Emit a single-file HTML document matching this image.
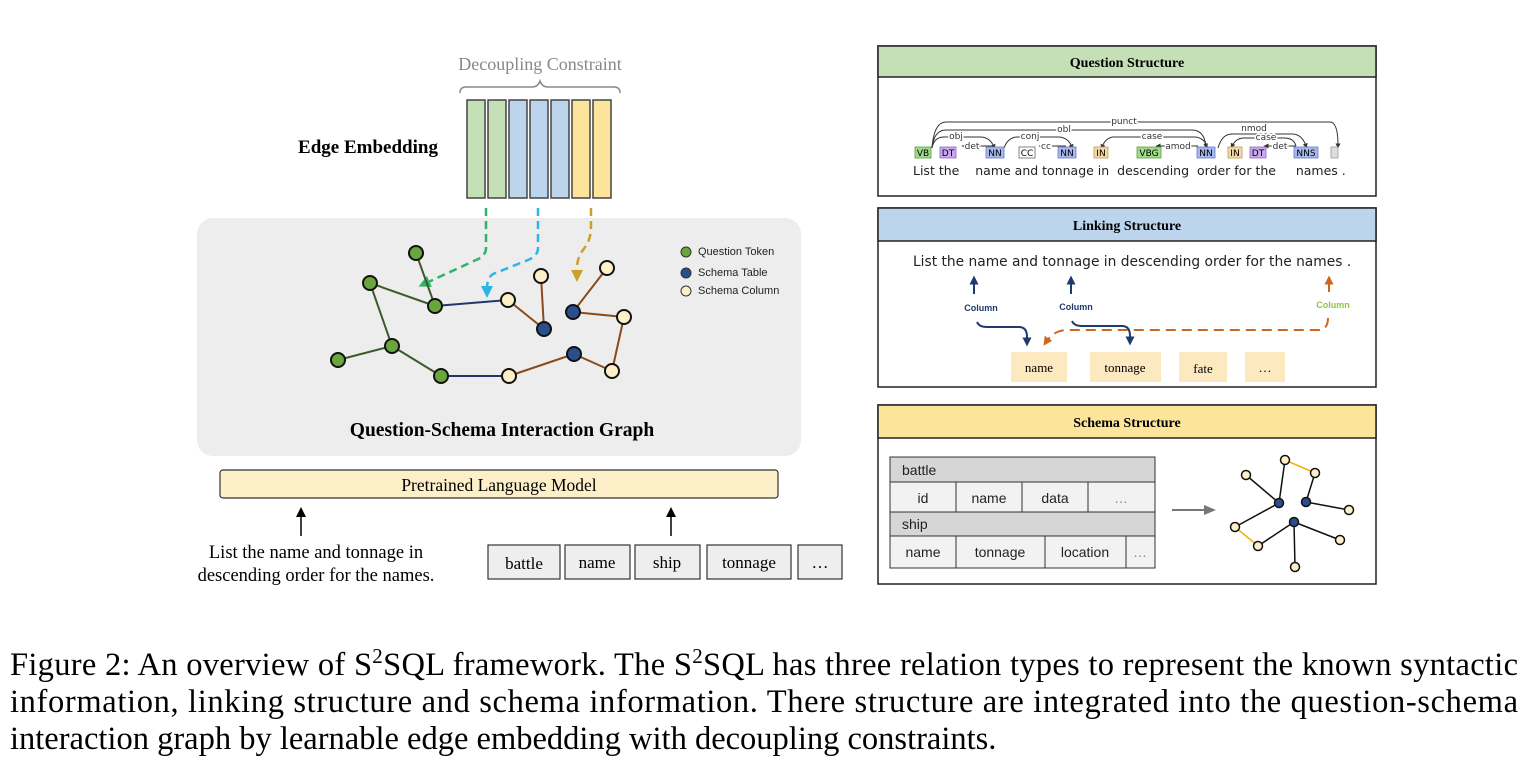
<!DOCTYPE html>
<html><head><meta charset="utf-8"><style>
body{margin:0;width:1526px;height:772px;background:#fff;overflow:hidden;font-family:"Liberation Serif",serif}
</style></head><body>
<svg width="1526" height="772" xmlns="http://www.w3.org/2000/svg" style="position:absolute;left:0;top:0">
<defs>
<marker id="ag" markerUnits="userSpaceOnUse" markerWidth="12" markerHeight="12" refX="6" refY="6" orient="auto"><path d="M0,0L12,6L0,12z" fill="#2fb36a"/></marker>
<marker id="ab" markerUnits="userSpaceOnUse" markerWidth="12" markerHeight="12" refX="6" refY="6" orient="auto"><path d="M0,0L12,6L0,12z" fill="#2db5e6"/></marker>
<marker id="ay" markerUnits="userSpaceOnUse" markerWidth="12" markerHeight="12" refX="6" refY="6" orient="auto"><path d="M0,0L12,6L0,12z" fill="#c9a02a"/></marker>
<marker id="ak" markerUnits="userSpaceOnUse" markerWidth="10" markerHeight="10" refX="5" refY="5" orient="auto"><path d="M0,0L10,5L0,10z" fill="#000"/></marker>
<marker id="an" markerUnits="userSpaceOnUse" markerWidth="9" markerHeight="9" refX="4.5" refY="4.5" orient="auto"><path d="M0,0L9,4.5L0,9z" fill="#1f3a6e"/></marker>
<marker id="ao" markerUnits="userSpaceOnUse" markerWidth="9" markerHeight="9" refX="4.5" refY="4.5" orient="auto"><path d="M0,0L9,4.5L0,9z" fill="#d0661e"/></marker>
<marker id="agr" markerUnits="userSpaceOnUse" markerWidth="12" markerHeight="12" refX="6" refY="6" orient="auto"><path d="M0,1L12,6L0,11z" fill="#777"/></marker>
<marker id="as" markerUnits="userSpaceOnUse" markerWidth="5" markerHeight="5" refX="2.5" refY="2.5" orient="auto"><path d="M0,0L5,2.5L0,5z" fill="#333"/></marker>
</defs>
<!-- left -->
<text x="540" y="70" font-size="18" fill="#888" text-anchor="middle">Decoupling Constraint</text>
<path d="M460,93 q0,-6 6,-6 h66 q6,0 8,-6 q2,6 8,6 h66 q6,0 6,6" fill="none" stroke="#888" stroke-width="1.5"/>
<text x="368" y="153" font-size="19" font-weight="bold" text-anchor="middle">Edge Embedding</text>
<g stroke="#444" stroke-width="1.5">
<rect x="467" y="100" width="18" height="98" fill="#c5dfb7"/>
<rect x="488" y="100" width="18" height="98" fill="#c5dfb7"/>
<rect x="509" y="100" width="18" height="98" fill="#bcd5ec"/>
<rect x="530" y="100" width="18" height="98" fill="#bcd5ec"/>
<rect x="551" y="100" width="18" height="98" fill="#bcd5ec"/>
<rect x="572" y="100" width="18" height="98" fill="#fde49b"/>
<rect x="593" y="100" width="18" height="98" fill="#fde49b"/>
</g>
<rect x="197" y="218" width="604" height="238" rx="16" fill="#ededed"/>
<g fill="none" stroke-width="2.5" stroke-dasharray="8,5">
<path d="M486,208 v40 q0,8 -10,12 l-52,24" stroke="#2fb36a" marker-end="url(#ag)"/>
<path d="M538,208 v40 q0,8 -10,12 l-35,14 q-6,4 -6,14 v4" stroke="#2db5e6" marker-end="url(#ab)"/>
<path d="M591,208 v20 q0,12 -8,22 q-6,8 -6,18 v8" stroke="#c9a02a" marker-end="url(#ay)"/>
</g>
<g stroke-width="2" fill="none">
<g stroke="#3d5a2a"><line x1="416" y1="253" x2="435" y2="306"/><line x1="370" y1="283" x2="435" y2="306"/><line x1="370" y1="283" x2="392" y2="346"/><line x1="338" y1="360" x2="392" y2="346"/><line x1="392" y1="346" x2="441" y2="376"/></g>
<g stroke="#22386a"><line x1="435" y1="306" x2="508" y2="300"/><line x1="441" y1="376" x2="509" y2="376"/></g>
<g stroke="#8a4a1a"><line x1="508" y1="300" x2="544" y2="329"/><line x1="541" y1="276" x2="544" y2="329"/><line x1="573" y1="312" x2="607" y2="268"/><line x1="573" y1="312" x2="624" y2="317"/><line x1="624" y1="317" x2="612" y2="371"/><line x1="612" y1="371" x2="574" y2="354"/><line x1="574" y1="354" x2="509" y2="376"/></g>
</g>
<g stroke="#111" stroke-width="2">
<g fill="#6aa63e"><circle cx="416" cy="253" r="7"/><circle cx="370" cy="283" r="7"/><circle cx="435" cy="306" r="7"/><circle cx="392" cy="346" r="7"/><circle cx="338" cy="360" r="7"/><circle cx="441" cy="376" r="7"/></g>
<g fill="#fdf0c8"><circle cx="508" cy="300" r="7"/><circle cx="541" cy="276" r="7"/><circle cx="509" cy="376" r="7"/><circle cx="607" cy="268" r="7"/><circle cx="624" cy="317" r="7"/><circle cx="612" cy="371" r="7"/></g>
<g fill="#2a4f8e"><circle cx="544" cy="329" r="7"/><circle cx="573" cy="312" r="7"/><circle cx="574" cy="354" r="7"/></g>
</g>
<g font-family="Liberation Sans,sans-serif" font-size="11" fill="#222">
<circle cx="686" cy="252" r="5" fill="#6aa63e" stroke="#333"/><text x="698" y="255">Question Token</text>
<circle cx="686" cy="273" r="5" fill="#2a4f8e" stroke="#333"/><text x="698" y="276">Schema Table</text>
<circle cx="686" cy="291" r="5" fill="#fdf0c8" stroke="#333"/><text x="698" y="294">Schema Column</text>
</g>
<text x="502" y="436" font-size="19.5" font-weight="bold" text-anchor="middle">Question-Schema Interaction Graph</text>
<rect x="220" y="470" width="558" height="28" rx="3" fill="#fdf0c8" stroke="#333" stroke-width="1.2"/>
<text x="499" y="491" font-size="17.5" text-anchor="middle">Pretrained Language Model</text>
<line x1="301" y1="536" x2="301" y2="512" stroke="#000" stroke-width="1.5" marker-end="url(#ak)"/>
<line x1="671" y1="536" x2="671" y2="512" stroke="#000" stroke-width="1.5" marker-end="url(#ak)"/>
<text x="316" y="558" font-size="18.5" text-anchor="middle">List the name and tonnage in</text>
<text x="316" y="581" font-size="18.5" text-anchor="middle">descending order for the names.</text>
<g fill="#eee" stroke="#333" stroke-width="1.2">
<rect x="488" y="545" width="72" height="34"/><rect x="565" y="545" width="65" height="34"/><rect x="635" y="545" width="65" height="34"/><rect x="707" y="545" width="84" height="34"/><rect x="798" y="545" width="44" height="34"/>
</g>
<g font-size="17" text-anchor="middle"><text x="524" y="569">battle</text><text x="597" y="568">name</text><text x="667" y="568">ship</text><text x="749" y="568">tonnage</text><text x="820" y="568">…</text></g>

<!-- right panels -->
<g stroke="#222" stroke-width="1.5">
<rect x="878" y="46" width="498" height="150" fill="#fff"/>
<rect x="878" y="46" width="498" height="31" fill="#c5dfb7"/>
<rect x="878" y="208" width="498" height="179" fill="#fff"/>
<rect x="878" y="208" width="498" height="33" fill="#bcd5ec"/>
<rect x="878" y="405" width="498" height="179" fill="#fff"/>
<rect x="878" y="405" width="498" height="33" fill="#fde49b"/>
</g>
<g font-size="14" font-weight="bold" text-anchor="middle"><text x="1127" y="67">Question Structure</text><text x="1127" y="230">Linking Structure</text><text x="1127" y="427">Schema Structure</text></g>
<!-- dependency -->
<g fill="none" stroke="#333" stroke-width="1">
<path d="M932,148 q2,-26 14,-26 h384 q8,0 8,24" marker-end="url(#as)"/>
<path d="M932,148 q2,-18 14,-18 h246 q12,0 14,16" marker-end="url(#as)"/>
<path d="M932,148 q2,-11 12,-11 h36 q10,0 14,10" marker-end="url(#as)"/>
<path d="M994,146 h-30" marker-end="url(#as)"/>
<path d="M1004,148 q4,-11 14,-11 h40 q10,0 14,10" marker-end="url(#as)"/>
<path d="M1066,146 h-25" marker-end="url(#as)"/>
<path d="M1208,148 q-4,-11 -14,-11 h-80 q-8,0 -12,10" marker-end="url(#as)"/>
<path d="M1198,146 h-40" marker-end="url(#as)"/>
<path d="M1218,148 q4,-14 14,-14 h60 q10,0 14,12" marker-end="url(#as)"/>
<path d="M1296,146 q-2,-8 -12,-8 h-40 q-8,0 -12,8" marker-end="url(#as)"/>
<path d="M1296,146 h-30" marker-end="url(#as)"/>
</g>
<g font-family="DejaVu Sans,sans-serif" font-size="9" fill="#333" text-anchor="middle">
<text x="1124" y="124" style="paint-order:stroke" stroke="#fff" stroke-width="3">punct</text>
<text x="1064" y="132" style="paint-order:stroke" stroke="#fff" stroke-width="3">obl</text>
<text x="956" y="139" style="paint-order:stroke" stroke="#fff" stroke-width="3">obj</text>
<text x="972" y="149" style="paint-order:stroke" stroke="#fff" stroke-width="3">det</text>
<text x="1030" y="139" style="paint-order:stroke" stroke="#fff" stroke-width="3">conj</text>
<text x="1046" y="149" style="paint-order:stroke" stroke="#fff" stroke-width="3">cc</text>
<text x="1152" y="139" style="paint-order:stroke" stroke="#fff" stroke-width="3">case</text>
<text x="1178" y="149" style="paint-order:stroke" stroke="#fff" stroke-width="3">amod</text>
<text x="1254" y="131" style="paint-order:stroke" stroke="#fff" stroke-width="3">nmod</text>
<text x="1266" y="140" style="paint-order:stroke" stroke="#fff" stroke-width="3">case</text>
<text x="1280" y="149" style="paint-order:stroke" stroke="#fff" stroke-width="3">det</text>
</g>
<g font-family="DejaVu Sans,sans-serif" font-size="9" text-anchor="middle" stroke-width="0.8">
<rect x="915" y="147" width="16" height="11" fill="#9edc8a" stroke="#5a9a4a"/><text x="923" y="156">VB</text>
<rect x="940" y="147" width="16" height="11" fill="#c9a8ef" stroke="#8a6ac0"/><text x="948" y="156">DT</text>
<rect x="986" y="147" width="18" height="11" fill="#a8b8ee" stroke="#6a7ac0"/><text x="995" y="156">NN</text>
<rect x="1019" y="147" width="16" height="11" fill="#fff" stroke="#666"/><text x="1027" y="156">CC</text>
<rect x="1058" y="147" width="18" height="11" fill="#a8b8ee" stroke="#6a7ac0"/><text x="1067" y="156">NN</text>
<rect x="1094" y="147" width="14" height="11" fill="#f6d9a8" stroke="#b89a5a"/><text x="1101" y="156">IN</text>
<rect x="1137" y="147" width="24" height="11" fill="#9edc8a" stroke="#5a9a4a"/><text x="1149" y="156">VBG</text>
<rect x="1197" y="147" width="18" height="11" fill="#a8b8ee" stroke="#6a7ac0"/><text x="1206" y="156">NN</text>
<rect x="1228" y="147" width="14" height="11" fill="#f6d9a8" stroke="#b89a5a"/><text x="1235" y="156">IN</text>
<rect x="1250" y="147" width="16" height="11" fill="#c9a8ef" stroke="#8a6ac0"/><text x="1258" y="156">DT</text>
<rect x="1294" y="147" width="24" height="11" fill="#a8b8ee" stroke="#6a7ac0"/><text x="1306" y="156">NNS</text>
<rect x="1331" y="147" width="7" height="11" fill="#ddd" stroke="#999"/>
</g>
<text x="913" y="175" font-family="DejaVu Sans,sans-serif" font-size="12.5" fill="#222" xml:space="preserve">List the    name and tonnage in  descending  order for the     names .</text>
<!-- linking -->
<text x="913" y="266" font-family="DejaVu Sans,sans-serif" font-size="13.8" fill="#222">List the name and tonnage in  descending order for the names .</text>
<g stroke-width="2" fill="none">
<line x1="974" y1="294" x2="974" y2="280" stroke="#1f3a6e" marker-end="url(#an)"/>
<line x1="1071" y1="294" x2="1071" y2="280" stroke="#1f3a6e" marker-end="url(#an)"/>
<line x1="1329" y1="292" x2="1329" y2="280" stroke="#d0661e" marker-end="url(#ao)"/>
<path d="M977,322 q2,5 10,5 h32 q8,0 8,10 v5" stroke="#1f3a6e" marker-end="url(#an)"/>
<path d="M1072,321 q2,5 10,5 h40 q8,0 8,10 v5" stroke="#1f3a6e" marker-end="url(#an)"/>
<path d="M1328,318 q0,12 -10,12 h-250 q-14,0 -22,12" stroke="#d0661e" stroke-dasharray="10,6" marker-end="url(#ao)"/>
</g>
<g font-family="Liberation Sans,sans-serif" font-size="9" font-weight="bold" text-anchor="middle"><text x="981" y="311" fill="#1f3a6e">Column</text><text x="1076" y="310" fill="#1f3a6e">Column</text><text x="1333" y="308" fill="#8cc63f">Column</text></g>
<g fill="#fde9c0"><rect x="1011" y="352" width="56" height="30"/><rect x="1090" y="352" width="71" height="30"/><rect x="1179" y="352" width="48" height="30"/><rect x="1245" y="352" width="40" height="30"/></g>
<g font-size="13" text-anchor="middle"><text x="1039" y="372">name</text><text x="1125" y="372">tonnage</text><text x="1203" y="373">fate</text><text x="1265" y="372">…</text></g>
<!-- schema table -->
<g stroke="#333" stroke-width="1">
<rect x="890" y="457" width="265" height="25" fill="#d6d6d6"/>
<rect x="890" y="482" width="265" height="30" fill="#f2f2f2"/>
<rect x="890" y="512" width="265" height="24" fill="#d6d6d6"/>
<rect x="890" y="536" width="265" height="32" fill="#f2f2f2"/>
<line x1="956" y1="482" x2="956" y2="512"/><line x1="1022" y1="482" x2="1022" y2="512"/><line x1="1088" y1="482" x2="1088" y2="512"/>
<line x1="956" y1="536" x2="956" y2="568"/><line x1="1045" y1="536" x2="1045" y2="568"/><line x1="1126" y1="536" x2="1126" y2="568"/>
</g>
<g font-family="Liberation Sans,sans-serif" font-size="14" fill="#222">
<text x="902" y="475">battle</text><text x="902" y="529">ship</text>
<g text-anchor="middle"><text x="923" y="503">id</text><text x="989" y="503">name</text><text x="1055" y="503">data</text><text x="1121" y="503" fill="#888">…</text>
<text x="923" y="557">name</text><text x="1000" y="557">tonnage</text><text x="1085" y="557">location</text><text x="1140" y="557" fill="#888">…</text></g>
</g>
<line x1="1172" y1="510" x2="1210" y2="510" stroke="#777" stroke-width="2" marker-end="url(#agr)"/>
<g stroke-width="1.5">
<g stroke="#111"><line x1="1285" y1="460" x2="1279" y2="503"/><line x1="1246" y1="475" x2="1279" y2="503"/><line x1="1279" y1="503" x2="1235" y2="527"/><line x1="1315" y1="473" x2="1306" y2="502"/><line x1="1306" y1="502" x2="1349" y2="510"/><line x1="1294" y1="522" x2="1258" y2="546"/><line x1="1294" y1="522" x2="1340" y2="540"/><line x1="1294" y1="522" x2="1295" y2="567"/></g>
<g stroke="#f2b400"><line x1="1285" y1="460" x2="1315" y2="473"/><line x1="1235" y1="527" x2="1258" y2="546"/></g>
</g>
<g stroke="#111" stroke-width="1.5">
<g fill="#fdf0c8"><circle cx="1285" cy="460" r="4.5"/><circle cx="1246" cy="475" r="4.5"/><circle cx="1315" cy="473" r="4.5"/><circle cx="1349" cy="510" r="4.5"/><circle cx="1235" cy="527" r="4.5"/><circle cx="1258" cy="546" r="4.5"/><circle cx="1340" cy="540" r="4.5"/><circle cx="1295" cy="567" r="4.5"/></g>
<g fill="#2a4f8e"><circle cx="1279" cy="503" r="4.5"/><circle cx="1306" cy="502" r="4.5"/><circle cx="1294" cy="522" r="4.5"/></g>
</g>
<!-- caption -->
<g font-size="32.5" fill="#000">
<text x="10" y="675" textLength="1508" lengthAdjust="spacing">Figure 2: An overview of S<tspan font-size="21" dy="-12">2</tspan><tspan dy="12">SQL framework. The S</tspan><tspan font-size="21" dy="-12">2</tspan><tspan dy="12">SQL has three relation types to represent the known syntactic</tspan></text>
<text x="10" y="712" textLength="1508" lengthAdjust="spacing">information, linking structure and schema information. There structure are integrated into the question-schema</text>
<text x="10" y="749">interaction graph by learnable edge embedding with decoupling constraints.</text>
</g>
</svg>
</body></html>
